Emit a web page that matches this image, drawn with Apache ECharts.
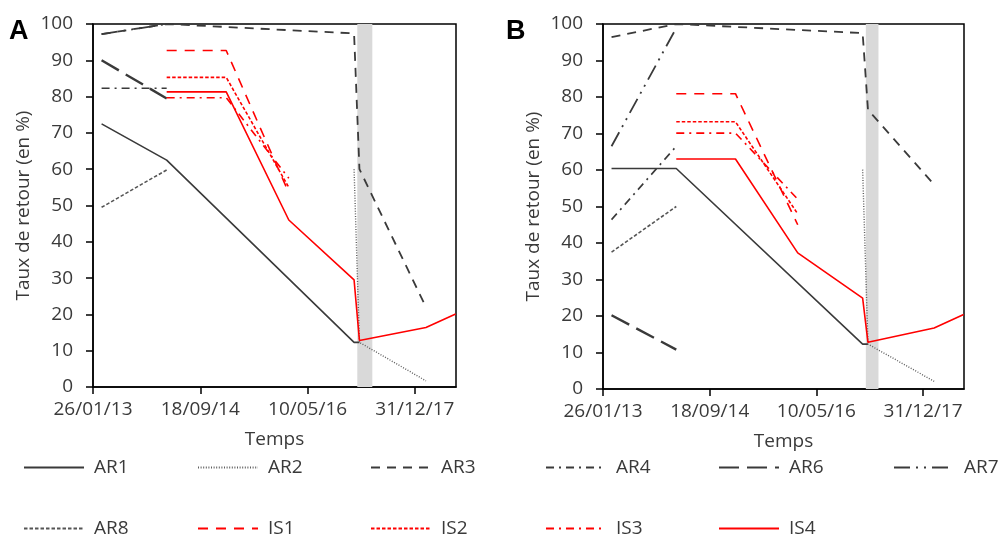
<!DOCTYPE html>
<html>
<head>
<meta charset="utf-8">
<script src="https://cdn.jsdelivr.net/npm/echarts@6/dist/echarts.min.js"></script>
<style>html,body{margin:0;padding:0;background:#fff;}#c{width:1003px;height:537px;}</style>
</head>
<body>
<div id="c"></div>
<script>
// ---- data ----
const baseDate = '2013-01-26';
const tickDays = [0, 600, 1200, 1800];
const pointDates = ['2013-03-15','2014-03-14','2015-02-10','2016-01-26','2017-01-25','2017-02-24','2018-03-03','2018-08-16'];
const seriesNames = ['AR1','AR2','AR3','AR4','AR6','AR7','AR8','IS1','IS2','IS3','IS4'];

// Panel A values (null = no point)
const A_AR1 = [72.5, 62.5, null, null, 12.3, 12.3, null, null];
const A_AR2 = [null, null, null, null, 60, 12.3, 1.7, null];
const A_AR3 = [97.2, 100, null, null, 97.4, 60, 22, null];
const A_AR4 = [82.3, 82.3, null, null, null, null, null, null];
const A_AR6 = [90, 79.5, null, null, null, null, null, null];
const A_AR7 = [97.2, 100, null, null, null, null, null, null];
const A_AR8 = [49.5, 59.8, null, null, null, null, null, null];
const A_IS1 = [null, 92.7, 92.7, 53.5, null, null, null, null];
const A_IS2 = [null, 85.3, 85.3, 55, null, null, null, null];
const A_IS3 = [null, 79.7, 79.7, 57.5, null, null, null, null];
const A_IS4 = [null, 81.3, 81.3, 46, 29.5, 12.8, 16.4, 20.1];
const bandA = ['2017-02-12', '2017-05-07'];

// Panel B values
const B_AR1 = [60.4, 60.4, null, null, 12.3, 12.3, null, null];
const B_AR2 = [null, null, null, null, 60.1, 12.3, 2.1, null];
const B_AR3 = [96.4, 100, null, null, 97.5, 76.5, 56, null];
const B_AR4 = [46.4, 66.5, null, null, null, null, null, null];
const B_AR6 = [20.2, 10.8, null, null, null, null, null, null];
const B_AR7 = [66.5, 98.9, null, null, null, null, null, null];
const B_AR8 = [37.5, 50, null, null, null, null, null, null];
const B_IS1 = [null, 80.9, 80.9, 45, null, null, null, null];
const B_IS2 = [null, 73.2, 73.2, 48, null, null, null, null];
const B_IS3 = [null, 70.1, 70.1, 52, null, null, null, null];
const B_IS4 = [null, 63, 63, 37.3, 24.9, 12.8, 16.7, 20.4];
const bandB = ['2017-02-12', '2017-04-24'];

const panelLabels = ['A', 'B'];
const xTitle = 'Temps';
const yTitle = 'Taux de retour (en %)';

// ---- helpers ----
function toUTC(s){ const p = s.split('-').map(Number); return Date.UTC(p[0], p[1]-1, p[2]); }
const baseMs = toUTC(baseDate);
function dayOf(s){ return Math.round((toUTC(s) - baseMs) / 86400000); }
function pad(n){ return (n < 10 ? '0' : '') + n; }
function fmtDay(v){
  const d = new Date(baseMs + v * 86400000);
  return pad(d.getUTCDate()) + '/' + pad(d.getUTCMonth()+1) + '/' + pad(d.getUTCFullYear() % 100);
}

const panels = [
  {AR1:A_AR1, AR2:A_AR2, AR3:A_AR3, AR4:A_AR4, AR6:A_AR6, AR7:A_AR7, AR8:A_AR8, IS1:A_IS1, IS2:A_IS2, IS3:A_IS3, IS4:A_IS4, band:bandA},
  {AR1:B_AR1, AR2:B_AR2, AR3:B_AR3, AR4:B_AR4, AR6:B_AR6, AR7:B_AR7, AR8:B_AR8, IS1:B_IS1, IS2:B_IS2, IS3:B_IS3, IS4:B_IS4, band:bandB}
];

// ---- styles ----
const BLK = '#3a3a3a', RED = '#ff0000';
const styles = {
  AR1: {color: BLK, width: 1.6, type: 'solid'},
  AR2: {color: '#5e5e5e', width: 1.4, type: [1, 1.6]},
  AR3: {color: BLK, width: 1.8, type: [9, 7]},
  AR4: {color: BLK, width: 1.6, type: [8, 5, 2, 5]},
  AR6: {color: BLK, width: 2.4, type: [20, 8]},
  AR7: {color: BLK, width: 1.8, type: [16, 6, 2, 6, 2, 6]},
  AR8: {color: '#555555', width: 1.6, type: [3.5, 2]},
  IS1: {color: RED, width: 1.6, type: [10, 8]},
  IS2: {color: RED, width: 1.6, type: [3.5, 2]},
  IS3: {color: RED, width: 1.6, type: [8, 5, 2, 5]},
  IS4: {color: RED, width: 1.6, type: 'solid'}
};

const grids = [
  {left: 93, top: 24, width: 363, height: 363},
  {left: 603, top: 24, width: 361, height: 365}
];
const TXT = '#3a3a3a';
const FS = 19;

const option = {
  animation: false,
  textStyle: {fontFamily: 'Open Sans'},
  title: panelLabels.map((t, i) => ({
    text: t, left: i === 0 ? 9 : 506, top: 18, padding: 0,
    textStyle: {fontSize: 27, fontWeight: 'bold', color: '#000', fontFamily: 'Liberation Sans'}
  })),
  grid: grids.map(g => Object.assign({show: true, borderColor: '#000', borderWidth: 1.5, backgroundColor: 'transparent'}, g)),
  xAxis: grids.map((g, i) => ({
    type: 'value', gridIndex: i, min: 0, max: 2030, interval: 600,
    axisLine: {show: true, lineStyle: {color: '#000', width: 1.5}},
    axisTick: {show: true, length: 7, customValues: tickDays, lineStyle: {color: '#000', width: 1.5}},
    axisLabel: {customValues: tickDays, formatter: fmtDay, fontSize: FS, color: TXT, margin: 13},
    splitLine: {show: false},
    name: xTitle, nameLocation: 'middle', nameGap: 43,
    nameTextStyle: {fontSize: FS, color: TXT}
  })),
  yAxis: grids.map((g, i) => ({
    type: 'value', gridIndex: i, min: 0, max: 100, interval: 10,
    axisLine: {show: true, lineStyle: {color: '#000', width: 1.5}},
    axisTick: {show: true, length: 7, lineStyle: {color: '#000', width: 1.5}},
    axisLabel: {fontSize: FS, color: TXT, margin: 20},
    splitLine: {show: false},
    name: yTitle, nameLocation: 'middle', nameGap: 60,
    nameTextStyle: {fontSize: FS, color: TXT}
  })),
  legend: [],
  series: []
};

// legend layout: two rows, six columns
const legCols = [23, 197, 370, 545, 718, 893];
const legRows = [458, 519];
seriesNames.forEach((n, k) => {
  const r = k < 6 ? 0 : 1, c = k < 6 ? k : k - 6;
  option.legend.push({
    data: [n], left: legCols[c], top: legRows[r], padding: 0,
    itemWidth: 60, itemHeight: 22, selectedMode: false,
    itemStyle: {opacity: 0, borderWidth: 0},
    textStyle: {fontSize: FS, color: TXT, padding: [0, 0, 0, 5]}
  });
});

panels.forEach((p, i) => {
  // grey band
  option.series.push({
    type: 'line', name: 'band' + i, xAxisIndex: i, yAxisIndex: i, data: [], z: 1, silent: true,
    markArea: {silent: true, itemStyle: {color: '#d9d9d9'},
      data: [[{xAxis: dayOf(p.band[0]), yAxis: 0}, {xAxis: dayOf(p.band[1]), yAxis: 100}]]}
  });
  seriesNames.forEach(n => {
    const vals = p[n];
    const data = [];
    pointDates.forEach((d, j) => { if (vals[j] !== null) data.push([dayOf(d), vals[j]]); });
    if (!data.length) return;
    const st = styles[n];
    option.series.push({
      type: 'line', name: n, xAxisIndex: i, yAxisIndex: i, data: data,
      symbol: 'none', showSymbol: false, z: 3, silent: true,
      color: st.color,
      lineStyle: {color: st.color, width: st.width, type: st.type}
    });
  });
});

const chart = echarts.init(document.getElementById('c'), null, {renderer: 'canvas'});
chart.setOption(option);
</script>
</body>
</html>
